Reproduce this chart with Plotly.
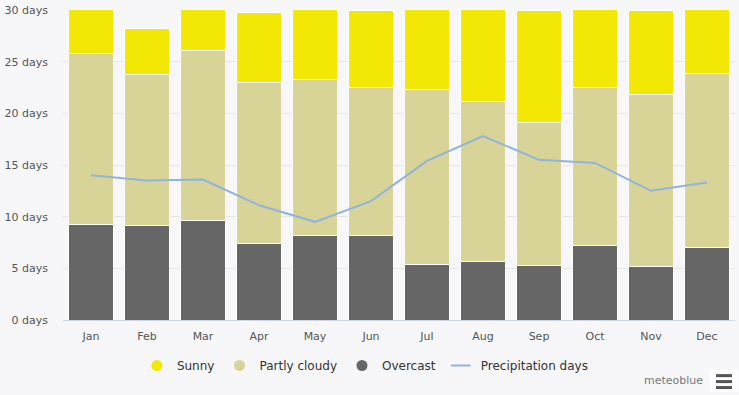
import plotly.graph_objects as go

months = ["Jan", "Feb", "Mar", "Apr", "May", "Jun", "Jul", "Aug", "Sep", "Oct", "Nov", "Dec"]
overcast = [9.2, 9.1, 9.6, 7.4, 8.2, 8.2, 5.4, 5.7, 5.3, 7.2, 5.2, 7.0]
partly_cloudy = [16.6, 14.7, 16.5, 15.6, 15.1, 14.3, 16.9, 15.4, 13.8, 15.3, 16.6, 16.9]
sunny = [5.2, 4.4, 4.9, 6.8, 7.7, 7.5, 8.7, 9.9, 10.9, 8.5, 8.2, 7.1]
precipitation = [14.0, 13.5, 13.6, 11.1, 9.5, 11.5, 15.4, 17.8, 15.5, 15.2, 12.5, 13.3]
y_ticks = [0, 5, 10, 15, 20, 25, 30]
y_labels = [f"{v} days" for v in y_ticks]

C_SUN = "#f2e705"
C_PART = "#d8d397"
C_OVER = "#666666"
C_LINE = "#90b4dc"
BG = "#f7f7f9"

fig = go.Figure()
for name, vals, col in [("Overcast", overcast, C_OVER), ("Partly cloudy", partly_cloudy, C_PART), ("Sunny", sunny, C_SUN)]:
    fig.add_trace(go.Bar(x=months, y=vals, name=name, marker=dict(color=col, line=dict(color="white", width=1)),
                         showlegend=False, hovertemplate="%{y} days"))
fig.add_trace(go.Scatter(x=months, y=precipitation, mode="lines", line=dict(color=C_LINE, width=2),
                         name="Precipitation days", showlegend=False))

# legend entries (circle markers)
for name, col in [("Sunny", C_SUN), ("Partly cloudy", C_PART), ("Overcast", C_OVER)]:
    fig.add_trace(go.Scatter(x=[None], y=[None], mode="markers", name=name,
                             marker=dict(color=col, size=11, symbol="circle")))
fig.add_trace(go.Scatter(x=[None], y=[None], mode="markers", name="Precipitation days",
                         marker=dict(symbol="line-ew-open", size=14, color=C_LINE,
                                     line=dict(color=C_LINE, width=2))))

fig.update_layout(
    width=739, height=395,
    barmode="stack", bargap=0.21,
    paper_bgcolor=BG, plot_bgcolor=BG,
    margin=dict(l=63, r=4, t=8, b=75),
    font=dict(family="DejaVu Sans", size=11, color="#555555"),
    legend=dict(orientation="h", x=0.45, xanchor="center", y=-0.1, yanchor="top",
                font=dict(size=12, color="#333333", family="DejaVu Sans"),
                itemwidth=30, traceorder="normal", bgcolor="rgba(0,0,0,0)"),
    xaxis=dict(showgrid=False, showline=True, linecolor="#ccd6eb", ticks="", tickfont=dict(size=11, color="#555555"),
               ticklabelstandoff=6),
    yaxis=dict(range=[0, 30], tickvals=y_ticks, ticktext=y_labels, gridcolor="#e6e6e6", zeroline=False,
               tickfont=dict(size=11, color="#555555"), ticklabelstandoff=14),
    annotations=[dict(text="meteoblue", x=(705 - 63) / 672, y=(320 - 381) / 312, xref="paper", yref="paper",
                      xanchor="right", yanchor="middle", showarrow=False, font=dict(size=11, color="#777777"))],
    shapes=[dict(type="rect", xref="paper", yref="paper", x0=(710 - 63) / 672, x1=(738 - 63) / 672,
                 y0=(320 - 392) / 312, y1=(320 - 370) / 312, fillcolor="#ffffff", line=dict(width=0))] +
           [dict(type="line", xref="paper", yref="paper", x0=(716 - 63) / 672, x1=(732 - 63) / 672,
                 y0=(320 - yy) / 312, y1=(320 - yy) / 312, line=dict(color="#555555", width=3))
            for yy in (376, 382, 388)],
)

fig.write_html("out.html", config={"displayModeBar": False},
               post_script="document.body.style.margin='0';document.body.style.background='%s';" % BG)
